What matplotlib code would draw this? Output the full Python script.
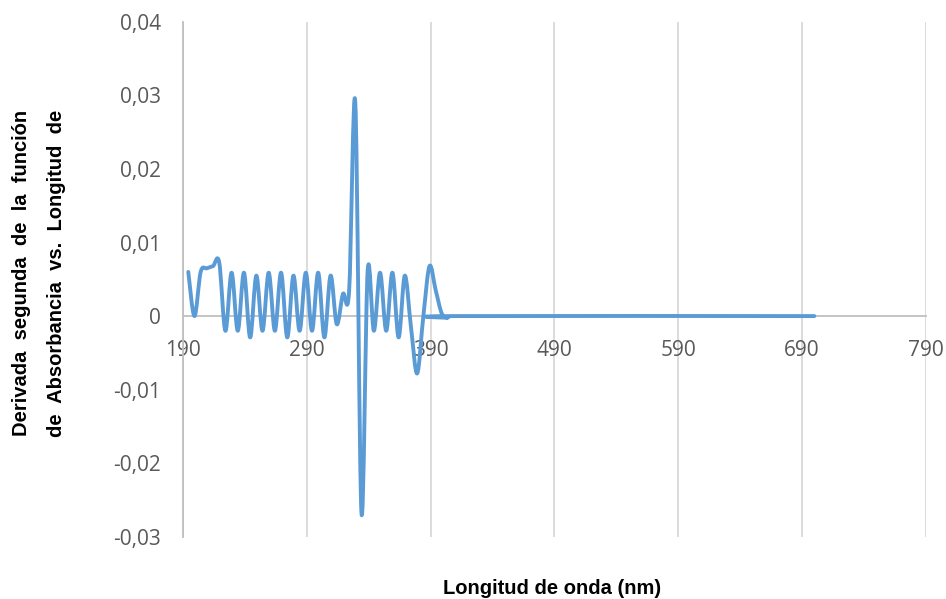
import numpy as np
import matplotlib
matplotlib.use('Agg')
from matplotlib import pyplot as plt
from matplotlib.path import Path
from matplotlib.patches import PathPatch

# longitud de onda (nm) y segunda derivada
wl = [194, 199, 204, 209, 214, 219, 224, 229, 234, 239, 244, 249, 254, 259,
      264, 269, 274, 279, 284, 289, 294, 299, 304, 309, 314, 319, 324, 329,
      334, 339, 344, 349, 354, 359, 364, 369, 374, 379, 384, 389, 394, 399,
      404, 409, 700]
d2 = [0.0060, 0.0000, 0.0060, 0.0065, 0.0068, 0.0073, -0.0020, 0.0059,
      -0.0020, 0.0059, -0.0029, 0.0055, -0.0020, 0.0059, -0.0020, 0.0059,
      -0.0029, 0.0055, -0.0020, 0.0059, -0.0020, 0.0059, -0.0029, 0.0055,
      -0.0011, 0.0030, 0.0034, 0.0290, -0.0268, 0.0062, -0.0020, 0.0059,
      -0.0020, 0.0059, -0.0029, 0.0055, -0.0015, -0.0078, 0.0000, 0.0068,
      0.0035, 0.0003, -0.0002, 0.0000, 0.0000]

xticks = [190, 290, 390, 490, 590, 690, 790]
yticks = [-0.03, -0.02, -0.01, 0, 0.01, 0.02, 0.03, 0.04]
ylabels = ['-0,03', '-0,02', '-0,01', '0', '0,01', '0,02', '0,03', '0,04']

BLUE = '#5B9BD5'
GRAY_TXT = '#595959'


#### linea suavizada tipo Excel (bezier por catmull-rom) ####
def smooth_path(x, y):
    p = np.column_stack([x, y]).astype(float)
    p = np.vstack([p[0], p, p[-1]])
    verts = [p[1]]
    codes = [Path.MOVETO]
    for i in range(1, len(p) - 2):
        p0, p1, p2, p3 = p[i - 1], p[i], p[i + 1], p[i + 2]
        c1 = p1 + (p2 - p0) / 6.0
        c2 = p2 - (p3 - p1) / 6.0
        verts += [c1, c2, p2]
        codes += [Path.CURVE4] * 3
    return Path(verts, codes)


fig = plt.figure(figsize=(9.46, 5.99), dpi=100)
ax = fig.add_axes([0.1938, 0.104, 0.7847, 0.8594])

ax.add_patch(PathPatch(smooth_path(wl, d2), facecolor='none', edgecolor=BLUE,
                       lw=2.8, capstyle='round', joinstyle='round', zorder=3))

ax.set_xlim(190, 790)
ax.set_ylim(-0.03, 0.04)
ax.set_xticks(xticks)
ax.set_yticks(yticks)
ax.set_yticklabels(ylabels)

ax.xaxis.grid(True, color='#D9D9D9', lw=1.3)
ax.set_axisbelow(True)

for s in ['top', 'right']:
    ax.spines[s].set_visible(False)
ax.spines['bottom'].set_position(('data', 0))
ax.spines['bottom'].set_color('#BFBFBF')
ax.spines['left'].set_color('#BFBFBF')
ax.spines['bottom'].set_linewidth(1.3)
ax.spines['left'].set_linewidth(1.3)

ax.tick_params(axis='x', length=0, pad=17, labelsize=15, labelcolor=GRAY_TXT)
ax.tick_params(axis='y', length=0, pad=16, labelsize=15, labelcolor=GRAY_TXT)
for lab in ax.get_xticklabels() + ax.get_yticklabels():
    lab.set_fontfamily('Open Sans')

fig.text(552 / 946, 1 - 588 / 599, 'Longitud de onda (nm)', ha='center', va='center',
         fontsize=14.5, fontweight='bold', family='Liberation Sans')
fig.text(22 / 946, 1 - 273 / 599, 'Derivada  segunda  de  la  función', rotation=90,
         ha='center', va='center', fontsize=14.5, fontweight='bold', family='Liberation Sans')
fig.text(57 / 946, 1 - 273 / 599, 'de  Absorbancia  vs.  Longitud  de', rotation=90,
         ha='center', va='center', fontsize=14.5, fontweight='bold', family='Liberation Sans')

fig.savefig('out.png', dpi=100)
